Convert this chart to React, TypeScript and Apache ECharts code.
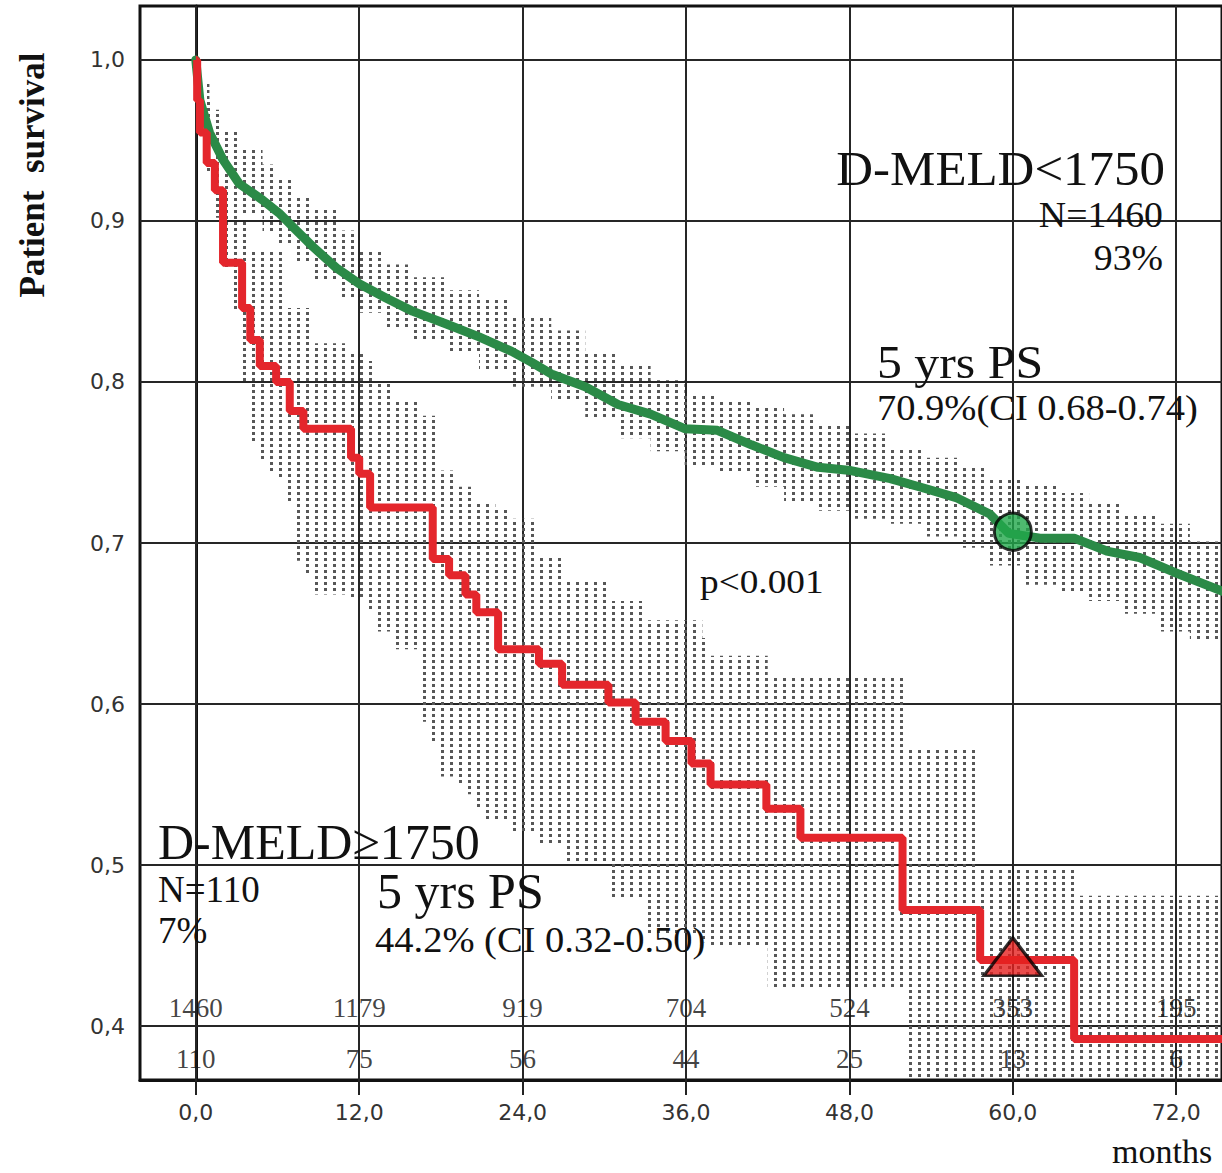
import React, { useEffect, useRef } from 'react';
import * as echarts from 'echarts';

// ---- axes ----
const xTicks = [0, 12, 24, 36, 48, 60, 72];
const yTicks = [0.4, 0.5, 0.6, 0.7, 0.8, 0.9, 1.0];

// ---- D-MELD<1750 (green) Kaplan-Meier estimate ----
const greenTime = [0, 0.3, 1.0, 2.0, 3.2, 4.9, 6.1, 7.4, 8.6, 10.3, 12.0, 14.0, 15.9, 18.4, 20.8, 23.2, 24.7, 26.1, 28.6, 31.0, 33.4, 35.9, 38.3, 40.8, 43.2, 45.7, 48.1, 51.0, 53.5, 55.9, 58.3, 59.7, 62.0, 64.5, 66.9, 69.3, 71.8, 74.2, 75.4];
const greenSurv = [1.0, 0.975, 0.955, 0.938, 0.923, 0.913, 0.905, 0.894, 0.884, 0.871, 0.861, 0.852, 0.844, 0.836, 0.828, 0.819, 0.812, 0.805, 0.797, 0.786, 0.780, 0.771, 0.770, 0.761, 0.753, 0.747, 0.745, 0.740, 0.734, 0.728, 0.718, 0.706, 0.703, 0.703, 0.695, 0.691, 0.682, 0.674, 0.670];

// green confidence band
const greenCiTime = [0, 0.5, 1.0, 2.0, 3.2, 4.9, 6.1, 7.4, 8.6, 10.3, 12.0, 14.0, 15.9, 18.4, 20.8, 23.2, 26.1, 28.6, 31.0, 33.4, 35.9, 38.3, 40.8, 43.2, 45.7, 48.1, 51.0, 53.5, 55.9, 58.3, 60.8, 63.2, 65.6, 68.1, 70.5, 73.0, 75.4];
const greenCiUpper = [1.0, 0.985, 0.969, 0.957, 0.946, 0.935, 0.927, 0.916, 0.907, 0.894, 0.882, 0.873, 0.865, 0.857, 0.851, 0.840, 0.832, 0.819, 0.811, 0.801, 0.793, 0.788, 0.784, 0.780, 0.774, 0.768, 0.759, 0.753, 0.747, 0.740, 0.737, 0.731, 0.726, 0.718, 0.712, 0.701, 0.695];
const greenCiLower = [1.0, 0.96, 0.94, 0.92, 0.905, 0.893, 0.886, 0.874, 0.864, 0.852, 0.843, 0.833, 0.826, 0.818, 0.808, 0.797, 0.788, 0.778, 0.765, 0.757, 0.747, 0.744, 0.735, 0.726, 0.720, 0.715, 0.712, 0.704, 0.697, 0.686, 0.674, 0.670, 0.664, 0.656, 0.645, 0.640, 0.635];

// ---- D-MELD>=1750 (red) Kaplan-Meier estimate ----
const redTime = [0, 0.1, 0.3, 0.8, 1.4, 2.0, 3.4, 4.0, 4.7, 5.9, 6.9, 7.9, 11.4, 12.0, 12.8, 17.4, 18.6, 19.8, 20.6, 22.2, 25.2, 26.9, 30.3, 32.3, 34.5, 36.4, 37.8, 41.9, 44.4, 51.9, 57.6, 64.5, 75.4];
const redSurv = [1.0, 0.975, 0.955, 0.936, 0.919, 0.874, 0.846, 0.826, 0.810, 0.800, 0.782, 0.771, 0.753, 0.743, 0.722, 0.690, 0.680, 0.668, 0.657, 0.634, 0.625, 0.612, 0.601, 0.589, 0.577, 0.563, 0.550, 0.535, 0.517, 0.472, 0.441, 0.392, 0.392];

// red confidence band
const redCiTime = [0, 0.3, 0.8, 1.2, 1.9, 2.5, 3.4, 3.7, 4.4, 5.1, 5.9, 6.4, 7.2, 7.8, 8.6, 11.3, 12.5, 13.2, 14.4, 16.6, 17.3, 17.9, 19.1, 19.8, 20.6, 21.3, 22.0, 23.2, 25.2, 27.1, 30.5, 33.0, 37.2, 37.8, 42.0, 52.0, 57.5, 64.8, 75.4];
const redCiUpper = [1.0, 0.99, 0.975, 0.96, 0.94, 0.92, 0.90, 0.882, 0.882, 0.882, 0.882, 0.846, 0.846, 0.846, 0.824, 0.818, 0.813, 0.800, 0.789, 0.779, 0.779, 0.745, 0.735, 0.735, 0.726, 0.726, 0.721, 0.715, 0.692, 0.676, 0.664, 0.652, 0.641, 0.630, 0.618, 0.572, 0.497, 0.481, 0.481];
const redCiLower = [1.0, 0.96, 0.93, 0.902, 0.87, 0.844, 0.80, 0.762, 0.752, 0.743, 0.740, 0.726, 0.689, 0.681, 0.668, 0.666, 0.659, 0.645, 0.634, 0.589, 0.577, 0.555, 0.550, 0.544, 0.535, 0.527, 0.527, 0.520, 0.512, 0.501, 0.479, 0.456, 0.452, 0.450, 0.424, 0.30, 0.30, 0.30, 0.30];

// ---- 5-year markers ----
const fiveYear = 60;
const greenFiveYear = 0.707;
const redFiveYear = 0.443;

// ---- numbers at risk ----
const riskMonths = [0, 12, 24, 36, 48, 60, 72];
const riskGreen = [1460, 1179, 919, 704, 524, 353, 195];
const riskRed = [110, 75, 56, 44, 25, 13, 6];
const riskRowGreenY = 0.4112;
const riskRowRedY = 0.3795;

const SERIF = '"Liberation Serif", "Times New Roman", serif';
const SANS = '"DejaVu Sans", Verdana, sans-serif';

const fmt = (v: number) => v.toFixed(1).replace('.', ',');

export default function App() {
  const ref = useRef<HTMLDivElement>(null);

  useEffect(() => {
    if (!ref.current) return;
    const chart = echarts.init(ref.current, null, { renderer: 'svg' });

    const cv = document.createElement('canvas');
    cv.width = 9;
    cv.height = 6;
    const ctx = cv.getContext('2d');
    if (ctx) {
      ctx.fillStyle = '#575757';
      ctx.fillRect(0, 0, 3, 3);
    }
    const pattern: any = { image: cv.toDataURL(), repeat: 'repeat', imageWidth: 9, imageHeight: 6 };

    const pairs = (t: number[], v: number[]) => t.map((x, i) => [x, v[i]]);

    // step-shaped band polygon from (time, lower, upper) arrays
    const bandSeries = (name: string, t: number[], lo: number[], hi: number[]) => ({
      name,
      type: 'custom',
      silent: true,
      clip: true,
      z: 2,
      data: t.map((x, i) => [x, lo[i], hi[i]]),
      renderItem: (params: any, api: any) => {
        if (params.dataIndex !== 0) return null;
        const top: number[][] = [];
        const bottom: number[][] = [];
        for (let i = 0; i < t.length; i++) {
          if (i > 0) {
            top.push(api.coord([t[i], hi[i - 1]]));
            bottom.push(api.coord([t[i], lo[i - 1]]));
          }
          top.push(api.coord([t[i], hi[i]]));
          bottom.push(api.coord([t[i], lo[i]]));
        }
        const pts = top.concat(bottom.reverse());
        return {
          type: 'polygon',
          shape: { points: pts },
          style: { fill: pattern, stroke: null },
        };
      },
    });

    const textEl = (text: string, x: number, y: number, size: number, align: string, scaleX = 1, weight = 'normal', rotation = 0) => ({
      type: 'text',
      x,
      y,
      scaleX,
      rotation,
      z: 100,
      style: {
        text,
        fontFamily: SERIF,
        fontSize: size,
        fontWeight: weight,
        fill: '#111',
        align,
        verticalAlign: 'middle',
      },
    });

    const riskLabel = {
      show: true,
      position: 'inside',
      formatter: (p: any) => String(p.value[2]),
      fontFamily: SERIF,
      fontSize: 27,
      color: '#111',
    };

    const option: any = {
      animation: false,
      backgroundColor: '#fff',
      grid: { left: 140, top: 6, right: -4, bottom: 93, show: true, borderColor: '#111', borderWidth: 3, backgroundColor: 'transparent' },
      xAxis: {
        type: 'value',
        min: -4.098,
        max: 75.36,
        axisLine: { show: true, lineStyle: { color: '#111', width: 3 } },
        axisTick: { show: true, customValues: xTicks, length: 15, lineStyle: { color: '#222', width: 2 } },
        axisLabel: { show: true, customValues: xTicks, formatter: (v: number) => fmt(v), margin: 21, fontFamily: SANS, fontSize: 22, color: '#333' },
        splitLine: { show: false },
      },
      yAxis: {
        type: 'value',
        min: 0.3665,
        max: 1.0335,
        axisLine: { show: true, lineStyle: { color: '#111', width: 3 } },
        axisTick: { show: true, customValues: yTicks, length: 13, lineStyle: { color: '#222', width: 2 } },
        axisLabel: { show: true, customValues: yTicks, formatter: (v: number) => fmt(v), margin: 15, fontFamily: SANS, fontSize: 22, color: '#333' },
        splitLine: { show: false },
      },
      series: [
        bandSeries('greenCI', greenCiTime, greenCiLower, greenCiUpper),
        bandSeries('redCI', redCiTime, redCiLower, redCiUpper),
        {
          name: 'D-MELD<1750',
          type: 'line',
          symbol: 'none',
          data: pairs(greenTime, greenSurv),
          lineStyle: { color: '#2b8a47', width: 9, join: 'round', cap: 'round' },
          z: 4,
          markLine: {
            silent: true,
            symbol: 'none',
            z: 1,
            label: { show: false },
            lineStyle: { color: '#262626', width: 2, type: 'solid' },
            data: [
              ...xTicks.map((v) => ({ xAxis: v })),
              ...yTicks.map((v) => ({ yAxis: v })),
            ],
          },
        },
        {
          name: 'D-MELD≥1750',
          type: 'line',
          step: 'end',
          symbol: 'none',
          data: pairs(redTime, redSurv),
          lineStyle: { color: '#e4262c', width: 8 },
          z: 4,
        },
        {
          name: 'green5y',
          type: 'scatter',
          symbol: 'circle',
          symbolSize: 37,
          data: [[fiveYear, greenFiveYear]],
          itemStyle: { color: '#22a84b', borderColor: '#000', borderWidth: 3 },
          z: 6,
        },
        {
          name: 'red5y',
          type: 'scatter',
          symbol: 'triangle',
          symbolSize: [58, 38],
          data: [[fiveYear, redFiveYear]],
          itemStyle: { color: '#e5211f', borderColor: '#000', borderWidth: 3 },
          z: 6,
        },
        {
          name: 'riskGreen',
          type: 'scatter',
          symbol: 'circle',
          symbolSize: 1,
          itemStyle: { color: 'rgba(0,0,0,0)' },
          data: riskMonths.map((m, i) => [m, riskRowGreenY, riskGreen[i]]),
          label: riskLabel,
          z: 7,
        },
        {
          name: 'riskRed',
          type: 'scatter',
          symbol: 'circle',
          symbolSize: 1,
          itemStyle: { color: 'rgba(0,0,0,0)' },
          data: riskMonths.map((m, i) => [m, riskRowRedY, riskRed[i]]),
          label: riskLabel,
          z: 7,
        },
      ],
      graphic: [
        textEl('Patient  survival', 32, 175, 35, 'center', 1, 'bold', Math.PI / 2),
        textEl('D-MELD<1750', 1165, 168, 49, 'right', 1.04),
        textEl('N=1460', 1163, 215, 35, 'right', 1.08),
        textEl('93%', 1163, 258, 35, 'right', 1.08),
        textEl('5 yrs PS', 877, 362, 47, 'left', 1.06),
        textEl('70.9%(CI 0.68-0.74)', 877, 408, 35, 'left', 1.1),
        textEl('p<0.001', 700, 582, 33, 'left', 1.13),
        textEl('D-MELD≥1750', 158, 842, 50, 'left', 1.0),
        textEl('N=110', 158, 889, 37, 'left', 1.0),
        textEl('7%', 158, 930, 37, 'left', 1.0),
        textEl('5 yrs PS', 377, 891, 50, 'left', 1.0),
        textEl('44.2% (CI 0.32-0.50)', 375, 940, 36, 'left', 1.07),
        textEl('months', 1112, 1151, 34, 'left', 1.0),
      ],
    };

    chart.setOption(option);
    return () => chart.dispose();
  }, []);

  return (
    <div
      ref={ref}
      style={{ position: 'fixed', left: 0, top: 0, width: 1222, height: 1173, background: '#fff' }}
    />
  );
}
